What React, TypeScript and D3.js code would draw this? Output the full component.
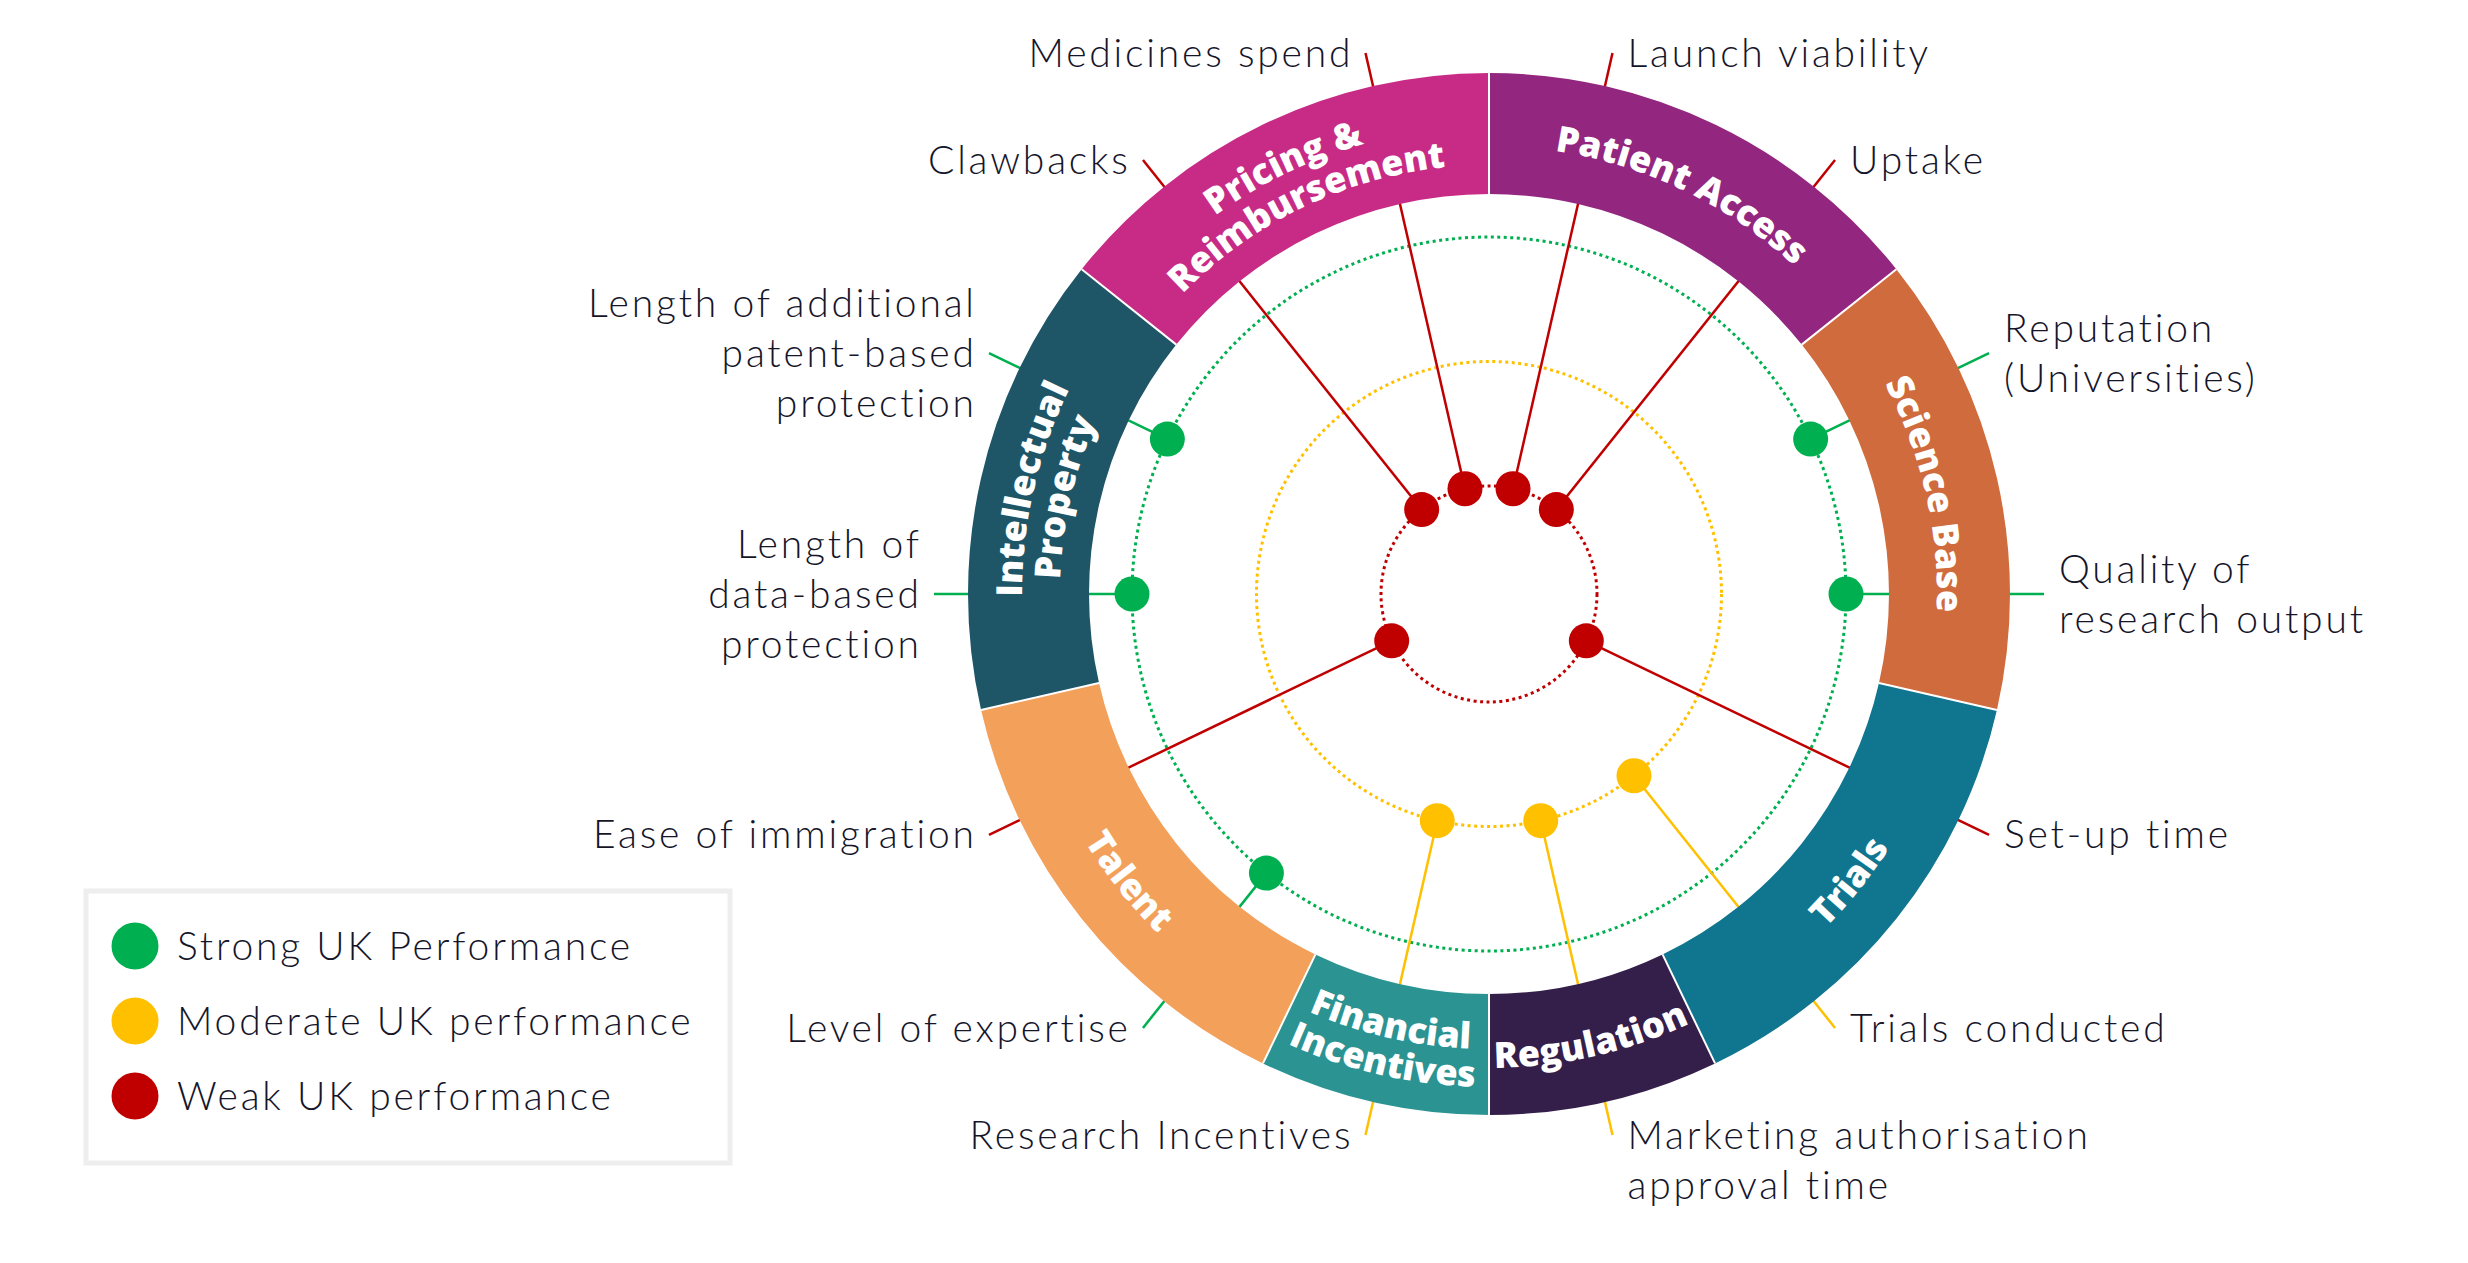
import React from "react";
import * as d3 from "d3";

// ---------- data ----------
const indicatorNames = [
  "Launch viability",
  "Uptake",
  "Reputation (Universities)",
  "Quality of research output",
  "Set-up time",
  "Trials conducted",
  "Marketing authorisation approval time",
  "Research Incentives",
  "Level of expertise",
  "Ease of immigration",
  "Length of data-based protection",
  "Length of additional patent-based protection",
  "Clawbacks",
  "Medicines spend",
];
const indicatorLabelLines = [
  ["Launch viability"],
  ["Uptake"],
  ["Reputation", "(Universities)"],
  ["Quality of", "research output"],
  ["Set-up time"],
  ["Trials conducted"],
  ["Marketing authorisation", "approval time"],
  ["Research Incentives"],
  ["Level of expertise"],
  ["Ease of immigration"],
  ["Length of", "data-based", "protection"],
  ["Length of additional", "patent-based", "protection"],
  ["Clawbacks"],
  ["Medicines spend"],
];
const indicatorCategory = [
  "Patient Access",
  "Patient Access",
  "Science Base",
  "Science Base",
  "Trials",
  "Trials",
  "Regulation",
  "Financial Incentives",
  "Talent",
  "Talent",
  "Intellectual Property",
  "Intellectual Property",
  "Pricing & Reimbursement",
  "Pricing & Reimbursement",
];
const indicatorPerformance = [
  "Weak",
  "Weak",
  "Strong",
  "Strong",
  "Weak",
  "Moderate",
  "Moderate",
  "Moderate",
  "Strong",
  "Weak",
  "Strong",
  "Strong",
  "Weak",
  "Weak",
];

const categoryNames = [
  "Patient Access",
  "Science Base",
  "Trials",
  "Regulation",
  "Financial Incentives",
  "Talent",
  "Intellectual Property",
  "Pricing & Reimbursement",
];
const categoryLabelLines = [
  ["Patient Access"],
  ["Science Base"],
  ["Trials"],
  ["Regulation"],
  ["Financial", "Incentives"],
  ["Talent"],
  ["Intellectual", "Property"],
  ["Pricing &", "Reimbursement"],
];
const categoryColors = [
  "#93267F",
  "#CF6B3C",
  "#10758E",
  "#341E4A",
  "#2C9393",
  "#F2A05A",
  "#1E5667",
  "#C82B85",
];

const performanceLevels = ["Weak", "Moderate", "Strong"];
const performanceColors = ["#C00000", "#FFC000", "#00B050"];
const legendLevels = ["Strong", "Moderate", "Weak"];
const legendLabels = [
  "Strong UK Performance",
  "Moderate UK performance",
  "Weak UK performance",
];

// ---------- component ----------
export default function App() {
  const W = 2468;
  const H = 1263;
  const cx = 1489;
  const cy = 594;
  const rIn = 400;
  const rOut = 521;
  const rTick = 555;
  const rLabelMid = 461;
  const ringFont = 36;
  const ringCapHalf = 13;
  const ringGap = 38;
  const labelFont = 39;
  const labelSpacing = 2.8;
  const labelLineH = 50;
  const labelFamily = "Lato, 'Open Sans', sans-serif";
  const textColor = "#15152A";

  const angle = d3
    .scaleBand<string>()
    .domain(indicatorNames)
    .range([0, 2 * Math.PI])
    .paddingInner(0)
    .paddingOuter(0);
  const midAngle = (n: string) => (angle(n) as number) + angle.bandwidth() / 2;
  const radius = d3
    .scalePoint<string>()
    .domain(performanceLevels)
    .range([108, 357]);
  const color = d3
    .scaleOrdinal<string, string>()
    .domain(performanceLevels)
    .range(performanceColors);

  const pt = (r: number, a: number) => [cx + r * Math.sin(a), cy - r * Math.cos(a)];

  const categories = categoryNames.map((name, i) => {
    const members = indicatorNames.filter((_, j) => indicatorCategory[j] === name);
    const a0 = d3.min(members, (m) => angle(m) as number) as number;
    const a1 = d3.max(members, (m) => (angle(m) as number) + angle.bandwidth()) as number;
    return { name, a0, a1, color: categoryColors[i], lines: categoryLabelLines[i] };
  });

  const arcGen = d3.arc<any>();

  const arcPath = (r: number, a0: number, a1: number, cw: boolean) => {
    const [x0, y0] = pt(r, a0);
    const [x1, y1] = pt(r, a1);
    if (cw) return `M${x0},${y0} A${r},${r} 0 0 1 ${x1},${y1}`;
    return `M${x1},${y1} A${r},${r} 0 0 0 ${x0},${y0}`;
  };

  const indicators = indicatorNames.map((name, i) => {
    const a = midAngle(name);
    const perf = indicatorPerformance[i];
    const r = radius(perf) as number;
    return { name, a, r, perf, lines: indicatorLabelLines[i] };
  });

  return (
    <svg
      width={W}
      height={H}
      style={{ position: "absolute", left: 0, top: 0, background: "#fff" }}
      viewBox={`0 0 ${W} ${H}`}
    >
      {/* dotted circles */}
      {performanceLevels.map((lvl) => (
        <circle
          key={lvl}
          cx={cx}
          cy={cy}
          r={radius(lvl) as number}
          fill="none"
          stroke={color(lvl)}
          strokeWidth={3}
          strokeDasharray="3 3.5"
        />
      ))}

      {/* radial leader lines */}
      {indicators.map((d) => {
        const [x0, y0] = pt(d.r, d.a);
        const [x1, y1] = pt(rTick, d.a);
        return (
          <line
            key={d.name}
            x1={x0}
            y1={y0}
            x2={x1}
            y2={y1}
            stroke={color(d.perf)}
            strokeWidth={2.5}
          />
        );
      })}

      {/* ring */}
      <g transform={`translate(${cx},${cy})`}>
        {categories.map((c) => (
          <path
            key={c.name}
            d={
              arcGen({
                innerRadius: rIn,
                outerRadius: rOut,
                startAngle: c.a0,
                endAngle: c.a1,
              }) as string
            }
            fill={c.color}
          />
        ))}
      </g>
      {categories.map((c) => {
        const [x0, y0] = pt(rIn, c.a0);
        const [x1, y1] = pt(rOut, c.a0);
        return (
          <line
            key={"sep" + c.name}
            x1={x0}
            y1={y0}
            x2={x1}
            y2={y1}
            stroke="#fff"
            strokeWidth={2}
          />
        );
      })}

      {/* ring labels */}
      <defs>
        {categories.map((c, i) => {
          const am = (c.a0 + c.a1) / 2;
          const top = Math.cos(am) > 0;
          const n = c.lines.length;
          return c.lines.map((_, k) => {
            const offset = ((n - 1) / 2 - k) * ringGap;
            const center = top ? rLabelMid + offset : rLabelMid - offset;
            const rb = top ? center - ringCapHalf : center + ringCapHalf;
            const ext = 0.5;
            return (
              <path
                key={`p${i}-${k}`}
                id={`cat-${i}-${k}`}
                d={arcPath(rb, am - ext, am + ext, top)}
                fill="none"
              />
            );
          });
        })}
      </defs>
      {categories.map((c, i) =>
        c.lines.map((line, k) => (
          <text
            key={`t${i}-${k}`}
            fontFamily="'Open Sans', sans-serif"
            fontWeight={800}
            fontSize={ringFont}
            fill="#fff"
          >
            <textPath href={`#cat-${i}-${k}`} startOffset="50%" textAnchor="middle">
              {line}
            </textPath>
          </text>
        ))
      )}

      {/* points */}
      {indicators.map((d) => {
        const [x, y] = pt(d.r, d.a);
        return <circle key={"pt" + d.name} cx={x} cy={y} r={17.5} fill={color(d.perf)} />;
      })}

      {/* outer labels */}
      {indicators.map((d) => {
        const [tx, ty] = pt(rTick, d.a);
        const right = Math.sin(d.a) > 0;
        const x = right ? tx + 15 : tx - 15 + labelSpacing;
        const n = d.lines.length;
        const nearBottom = Math.cos(d.a) < -0.9;
        const firstCenter = nearBottom ? ty : ty - ((n - 1) / 2) * labelLineH;
        return (
          <text
            key={"lbl" + d.name}
            fontFamily={labelFamily}
            fontWeight={300}
            fontSize={labelFont}
            letterSpacing={labelSpacing}
            fill={textColor}
            textAnchor={right ? "start" : "end"}
          >
            {d.lines.map((line, k) => (
              <tspan key={k} x={x} y={firstCenter + k * labelLineH + labelFont * 0.35}>
                {line}
              </tspan>
            ))}
          </text>
        );
      })}

      {/* legend */}
      <rect x={86} y={891} width={644} height={272} fill="#fff" stroke="#EEEEEE" strokeWidth={5} />
      {legendLevels.map((lvl, i) => (
        <g key={"lg" + lvl} transform={`translate(0, ${946 + i * 75})`}>
          <circle cx={135} cy={0} r={23.5} fill={color(lvl)} />
          <text
            x={177}
            y={labelFont * 0.35}
            fontFamily={labelFamily}
            fontWeight={300}
            fontSize={labelFont}
            letterSpacing={labelSpacing}
            fill={textColor}
          >
            {legendLabels[i]}
          </text>
        </g>
      ))}
    </svg>
  );
}
